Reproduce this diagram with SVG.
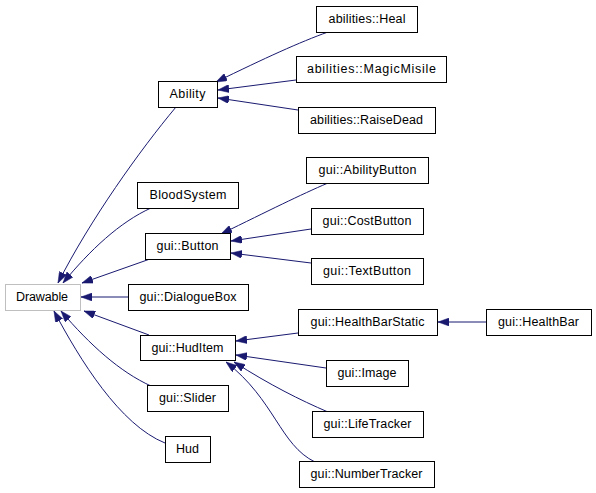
<svg xmlns="http://www.w3.org/2000/svg" width="596" height="493" viewBox="0 0 596 493">
<defs>
<style>
.n rect{fill:#fff;stroke:#000;stroke-width:1}
.n.g rect{stroke:#bfbfbf}
.n text{font-family:"Liberation Sans",Arial,sans-serif;font-size:12.5px;text-anchor:middle;fill:#000}
.e path{fill:none;stroke:#191970;stroke-width:1;marker-end:url(#ah)}
</style>
<marker id="ah" viewBox="0 0 11 8" refX="11" refY="4" markerWidth="11" markerHeight="8" markerUnits="userSpaceOnUse" orient="auto">
<path d="M0,0 L11,4 L0,8 z" fill="#191970" stroke="#191970" stroke-width="0.5"/>
</marker>
</defs>
<rect width="596" height="493" fill="#fff"/>
<g class="e" id="edges">
<path d="M176,107 C140,150 90,220 58,283"/>
<path d="M151,208 C120,222 90,250 63,283"/>
<path d="M150,259 L82,283"/>
<path d="M128,297 L81,297"/>
<path d="M149,335 L84,311"/>
<path d="M151,386 C120,372 90,345 61,311"/>
<path d="M165,443 C120,425 80,360 54,311"/>
<path d="M328,32 C300,42 265,58 216,82"/>
<path d="M296,80 L218,90"/>
<path d="M298,110 L218,98"/>
<path d="M328,183 C300,195 270,210 221,234"/>
<path d="M311,229 L231,241"/>
<path d="M311,263 L231,253"/>
<path d="M298,333 L236,341"/>
<path d="M326,368 L236,355"/>
<path d="M328,412 C300,400 270,385 234,362"/>
<path d="M315,462 C280,445 275,400 226,362"/>
<path d="M486,322 L438,322"/>
</g>
<g class="n g" id="Drawable"><rect x="5.5" y="284.5" width="75" height="26"/><text x="42" y="301" textLength="52" lengthAdjust="spacing">Drawable</text></g>
<g class="n" id="Ability"><rect x="158.5" y="81.5" width="59" height="26"/><text x="187.5" y="98" textLength="36" lengthAdjust="spacing">Ability</text></g>
<g class="n" id="Heal"><rect x="316.5" y="6.5" width="101" height="26"/><text x="367" y="23" textLength="77" lengthAdjust="spacing">abilities::Heal</text></g>
<g class="n" id="MagicMisile"><rect x="296.5" y="56.5" width="150" height="26"/><text x="371.5" y="73" textLength="129" lengthAdjust="spacing">abilities::MagicMisile</text></g>
<g class="n" id="RaiseDead"><rect x="298.5" y="107.5" width="137" height="26"/><text x="366.5" y="124" textLength="113" lengthAdjust="spacing">abilities::RaiseDead</text></g>
<g class="n" id="BloodSystem"><rect x="137.5" y="182.5" width="101" height="26"/><text x="188" y="199" textLength="77" lengthAdjust="spacing">BloodSystem</text></g>
<g class="n" id="Button"><rect x="145.5" y="233.5" width="85" height="26"/><text x="187.5" y="250" textLength="62" lengthAdjust="spacing">gui::Button</text></g>
<g class="n" id="AbilityButton"><rect x="306.5" y="157.5" width="122" height="26"/><text x="367.5" y="174" textLength="98" lengthAdjust="spacing">gui::AbilityButton</text></g>
<g class="n" id="CostButton"><rect x="311.5" y="208.5" width="112" height="26"/><text x="367" y="225" textLength="89" lengthAdjust="spacing">gui::CostButton</text></g>
<g class="n" id="TextButton"><rect x="311.5" y="258.5" width="112" height="26"/><text x="367" y="275" textLength="88" lengthAdjust="spacing">gui::TextButton</text></g>
<g class="n" id="DialogueBox"><rect x="128.5" y="284.5" width="120" height="26"/><text x="188" y="301" textLength="97" lengthAdjust="spacing">gui::DialogueBox</text></g>
<g class="n" id="HudItem"><rect x="140.5" y="335.5" width="95" height="25"/><text x="187.5" y="351.5" textLength="72" lengthAdjust="spacing">gui::HudItem</text></g>
<g class="n" id="Slider"><rect x="147.5" y="385.5" width="81" height="26"/><text x="187.5" y="402" textLength="57" lengthAdjust="spacing">gui::Slider</text></g>
<g class="n" id="Hud"><rect x="165.5" y="436.5" width="45" height="26"/><text x="187.5" y="453" textLength="23" lengthAdjust="spacing">Hud</text></g>
<g class="n" id="HealthBarStatic"><rect x="298.5" y="309.5" width="139" height="26"/><text x="367.5" y="326" textLength="114" lengthAdjust="spacing">gui::HealthBarStatic</text></g>
<g class="n" id="HealthBar"><rect x="486.5" y="309.5" width="105" height="26"/><text x="538.5" y="326" textLength="81" lengthAdjust="spacing">gui::HealthBar</text></g>
<g class="n" id="Image"><rect x="326.5" y="360.5" width="82" height="26"/><text x="367" y="377" textLength="59" lengthAdjust="spacing">gui::Image</text></g>
<g class="n" id="LifeTracker"><rect x="312.5" y="411.5" width="111" height="26"/><text x="367.5" y="428" textLength="88" lengthAdjust="spacing">gui::LifeTracker</text></g>
<g class="n" id="NumberTracker"><rect x="299.5" y="461.5" width="135" height="26"/><text x="366.5" y="478" textLength="112" lengthAdjust="spacing">gui::NumberTracker</text></g>
</svg>
